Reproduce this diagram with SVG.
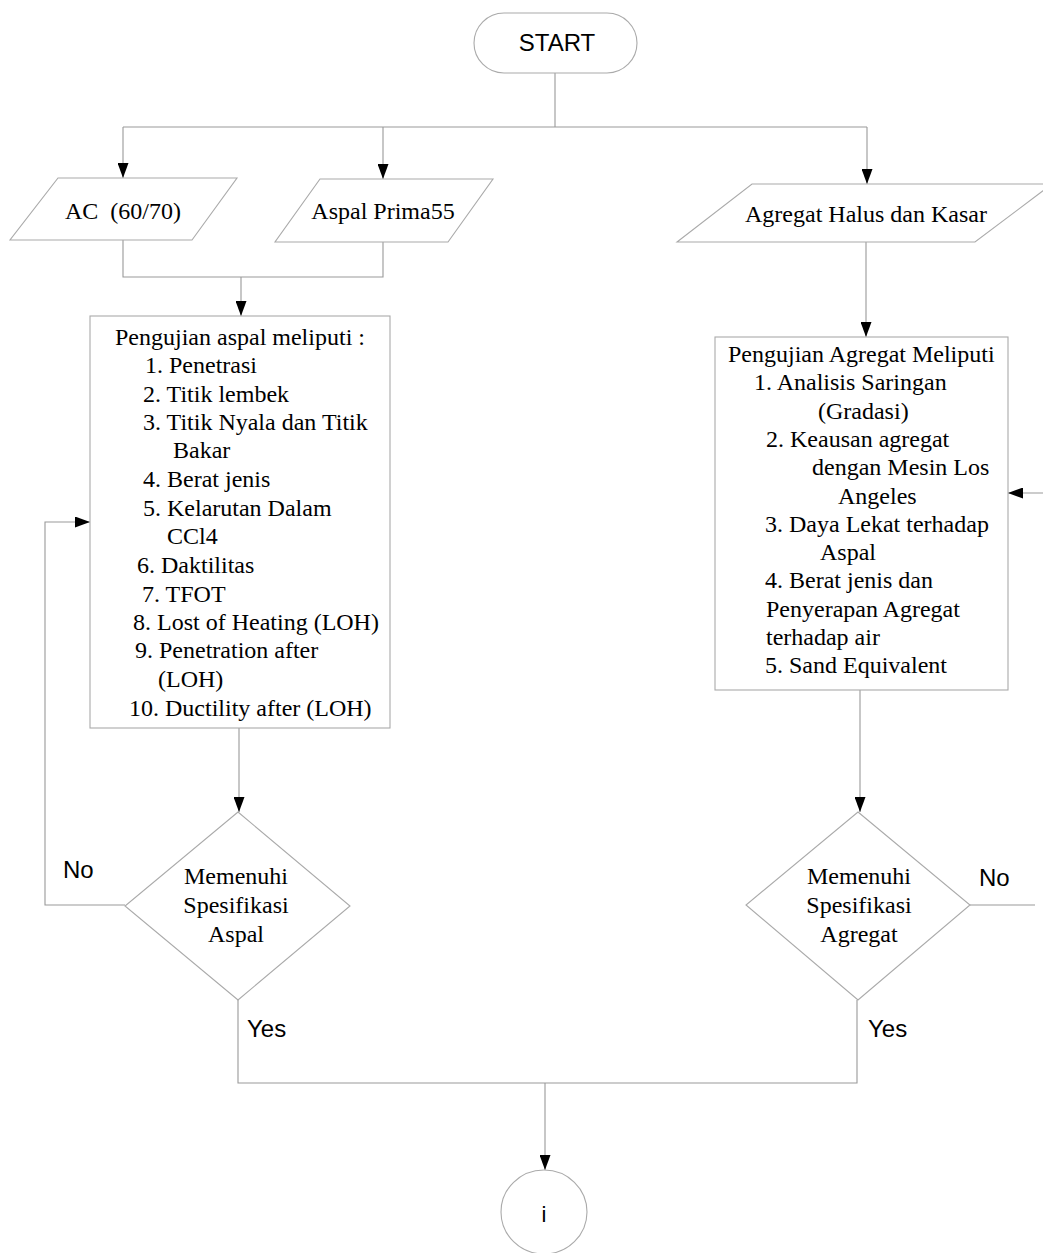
<svg xmlns="http://www.w3.org/2000/svg" width="1043" height="1253" viewBox="0 0 1043 1253">
<defs>
<marker id="arr" viewBox="0 0 15 11" refX="15" refY="5.5" markerWidth="15" markerHeight="11" markerUnits="userSpaceOnUse" orient="auto">
<path d="M0,0 L15,5.5 L0,11 z" fill="#000"/>
</marker>
<style>
.ln{fill:none;stroke:#999;stroke-width:1.1}
.sh{fill:#fff;stroke:#aaa;stroke-width:1.1}
.tx{font-family:"Liberation Serif","Times New Roman",serif;font-size:24px;fill:#000}
.sx{font-family:"Liberation Sans",Arial,sans-serif;font-size:24px;fill:#000}
.c{text-anchor:middle}
</style>
</defs>
<rect width="1043" height="1253" fill="#fff"/>

<g id="connectors">
<path class="ln" d="M555,73 V127"/>
<path class="ln" d="M123,127 H867"/>
<path class="ln" d="M123,127 V178" marker-end="url(#arr)"/>
<path class="ln" d="M383,127 V179" marker-end="url(#arr)"/>
<path class="ln" d="M867,127 V184" marker-end="url(#arr)"/>
<path class="ln" d="M123,240 V277 H383 V242"/>
<path class="ln" d="M241,277 V316" marker-end="url(#arr)"/>
<path class="ln" d="M866,242 V337" marker-end="url(#arr)"/>
<path class="ln" d="M239,728 V812" marker-end="url(#arr)"/>
<path class="ln" d="M860,690 V812" marker-end="url(#arr)"/>
<path class="ln" d="M125,905 H45 V522 H90" marker-end="url(#arr)"/>
<path class="ln" d="M970,905 H1035"/>
<path class="ln" d="M1043,493 H1008" marker-end="url(#arr)"/>
<path class="ln" d="M238,1000 V1083 H857 V1000"/>
<path class="ln" d="M545,1083 V1170" marker-end="url(#arr)"/>
<text class="sx" x="63" y="878">No</text>
<text class="sx" x="979" y="886">No</text>
<text class="sx" x="247" y="1037">Yes</text>
<text class="sx" x="868" y="1037">Yes</text>
</g>

<g id="start">
<rect class="sh" x="474" y="13" width="163" height="60" rx="30" ry="30"/>
<text class="sx c" x="557" y="51">START</text>
</g>

<g id="ac6070">
<polygon class="sh" points="58,178 237,178 192,240 10,240"/>
<text class="tx c" x="123" y="219" xml:space="preserve">AC  (60/70)</text>
</g>

<g id="aspalprima">
<polygon class="sh" points="320,179 493,179 448,242 275,242"/>
<text class="tx c" x="383" y="219">Aspal Prima55</text>
</g>

<g id="agregat">
<polygon class="sh" points="752,184 1052,184 975,242 677,242"/>
<text class="tx c" x="866" y="222">Agregat Halus dan Kasar</text>
</g>

<g id="uji-aspal">
<rect class="sh" x="90" y="316" width="300" height="412"/>
<text class="tx" x="115" y="345">Pengujian aspal meliputi :</text>
<text class="tx" x="145" y="373">1. Penetrasi</text>
<text class="tx" x="143" y="402">2. Titik lembek</text>
<text class="tx" x="143" y="430">3. Titik Nyala dan Titik</text>
<text class="tx" x="173" y="458">Bakar</text>
<text class="tx" x="143" y="487">4. Berat jenis</text>
<text class="tx" x="143" y="516">5. Kelarutan Dalam</text>
<text class="tx" x="167" y="544">CCl4</text>
<text class="tx" x="137" y="573">6. Daktilitas</text>
<text class="tx" x="142" y="602">7. TFOT</text>
<text class="tx" x="133" y="630">8. Lost of Heating (LOH)</text>
<text class="tx" x="135" y="658">9. Penetration after</text>
<text class="tx" x="158" y="687">(LOH)</text>
<text class="tx" x="129" y="716">10. Ductility after (LOH)</text>
</g>

<g id="uji-agregat">
<rect class="sh" x="715" y="337" width="293" height="353"/>
<text class="tx" x="728" y="362">Pengujian Agregat Meliputi</text>
<text class="tx" x="754" y="390">1. Analisis Saringan</text>
<text class="tx" x="818" y="419">(Gradasi)</text>
<text class="tx" x="766" y="447">2. Keausan agregat</text>
<text class="tx" x="812" y="475">dengan Mesin Los</text>
<text class="tx" x="838" y="504">Angeles</text>
<text class="tx" x="765" y="532">3. Daya Lekat terhadap</text>
<text class="tx" x="820" y="560">Aspal</text>
<text class="tx" x="765" y="588">4. Berat jenis dan</text>
<text class="tx" x="766" y="617">Penyerapan Agregat</text>
<text class="tx" x="766" y="645">terhadap air</text>
<text class="tx" x="765" y="673">5. Sand Equivalent</text>
</g>

<g id="cek-aspal">
<polygon class="sh" points="238,812 350,906 238,1000 125,906"/>
<text class="tx c" x="236" y="884">Memenuhi</text>
<text class="tx c" x="236" y="913">Spesifikasi</text>
<text class="tx c" x="236" y="942">Aspal</text>
</g>

<g id="cek-agregat">
<polygon class="sh" points="858,812 970,905 858,1000 746,905"/>
<text class="tx c" x="859" y="884">Memenuhi</text>
<text class="tx c" x="859" y="913">Spesifikasi</text>
<text class="tx c" x="859" y="942">Agregat</text>
</g>

<g id="konektor-i">
<ellipse class="sh" cx="544" cy="1212" rx="43" ry="42"/>
<text class="sx c" x="544" y="1222" style="font-size:22px">i</text>
</g>
</svg>
